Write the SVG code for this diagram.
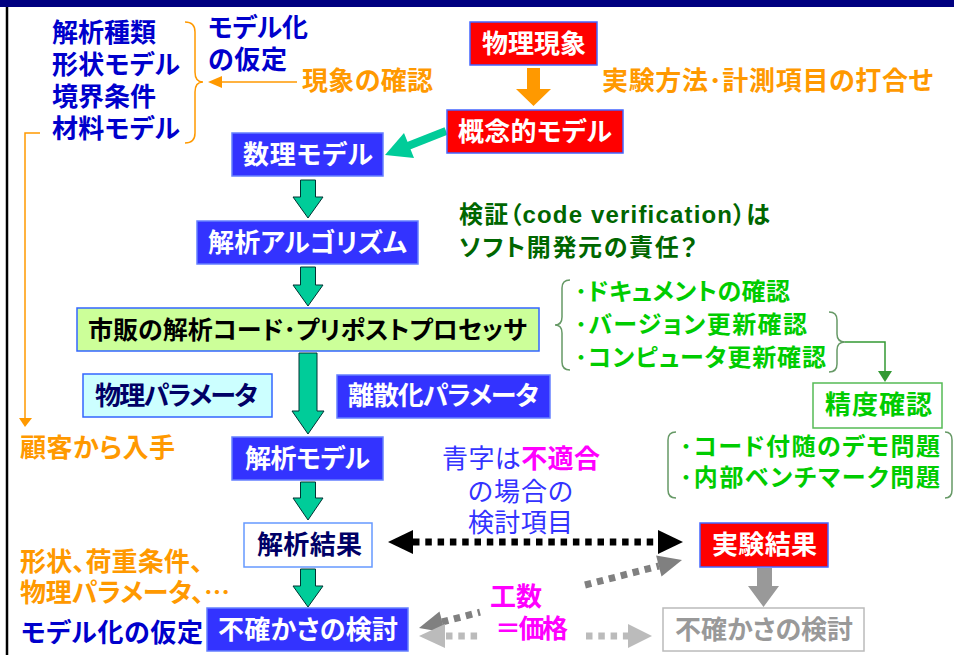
<svg xmlns="http://www.w3.org/2000/svg" width="954" height="655" viewBox="0 0 954 655">
<style>
text{font-family:"Noto Sans CJK JP","Noto Sans CJK SC",sans-serif;font-weight:bold;font-feature-settings:"palt";}
.f26{font-size:26px}
.f25{font-size:25px}
.f24{font-size:24px}
.wt{fill:#FFFFFF}
.nv{fill:#000066}
.db{fill:#0000CC}
.or{fill:#FF9900}
.gr{fill:#00CC00}
.dg{fill:#006600}
.mg{fill:#FF00FF}
.bl{fill:#3333FF;font-weight:normal}
.gy{fill:#999999}
.bbox{fill:#3333FF;stroke:#6680FF;stroke-width:1.5}
.rbox{fill:#FF0000;stroke:#4466FF;stroke-width:1.5}
.blk{fill:#00CC99;stroke:#003333;stroke-width:1}
</style>
<rect x="0" y="0" width="954" height="7" fill="#000080"/>
<line x1="7" y1="7" x2="7" y2="655" stroke="#000000" stroke-width="2.5"/>

<g id="connectors">
  <!-- orange brace and arrow -->
  <path d="M185,22 Q195,22 195,32 L195,72 Q195,82 203,82 Q195,82 195,92 L195,133 Q195,143 185,143" fill="none" stroke="#FF9900" stroke-width="1.5"/>
  <line x1="297" y1="82" x2="220" y2="82" stroke="#FF9900" stroke-width="1.5"/>
  <polygon points="208,82 222,76 222,88" fill="#FF9900"/>
  <polyline points="40,133 25,133 25,418" fill="none" stroke="#FF9900" stroke-width="1.5"/>
  <polygon points="19,418 32,418 25,427" fill="#FF9900"/>
  <!-- orange block arrow -->
  <polygon points="527,68 540,68 540,89 551,89 533.5,106 516,89 527,89" fill="#FF9900"/>
  <!-- teal arrow -->
  <line x1="446" y1="131" x2="408" y2="146" stroke="#00CC99" stroke-width="8"/>
  <polygon points="385,155 404,133 414,158" fill="#00CC99"/>
  <!-- block arrows -->
  <polygon class="blk" points="300.5,180 315.5,180 315.5,197 323,197 308,218 293,197 300.5,197"/>
  <polygon class="blk" points="300.5,267 315.5,267 315.5,285 323,285 308,306 293,285 300.5,285"/>
  <polygon class="blk" points="299,353 317,353 317,411 324,411 308,434 292,411 299,411"/>
  <polygon class="blk" points="300.5,482 315.5,482 315.5,498 323,498 308,520 293,498 300.5,498"/>
  <polygon class="blk" points="300.5,569 315.5,569 315.5,586 323,586 308,607 293,586 300.5,586"/>
  <!-- black dotted double arrow -->
  <line x1="413" y1="542" x2="659" y2="542" stroke="#000000" stroke-width="7" stroke-dasharray="6.5 5.8"/>
  <polygon points="388,542 413,530 413,554" fill="#000000"/>
  <polygon points="683,542 658,530 658,554" fill="#000000"/>
  <!-- dark gray dotted double arrow -->
  <line x1="442" y1="622" x2="480" y2="612.2" stroke="#808080" stroke-width="7" stroke-dasharray="6.5 5.8"/>
  <line x1="585" y1="585" x2="659" y2="566" stroke="#808080" stroke-width="7" stroke-dasharray="6.5 5.8"/>
  <polygon points="682,560 661.5,576.6 656.1,555.4" fill="#808080"/>
  <polygon points="419,628 445,632.6 439.5,611.4" fill="#808080"/>
  <!-- light gray dotted double arrow -->
  <line x1="446" y1="636" x2="480" y2="636" stroke="#BBBBBB" stroke-width="7" stroke-dasharray="6.5 5.8"/>
  <line x1="586" y1="636" x2="628" y2="636" stroke="#BBBBBB" stroke-width="7" stroke-dasharray="6.5 5.8"/>
  <polygon points="419,636 445,624 445,648" fill="#BBBBBB"/>
  <polygon points="652,636 628,624 628,648" fill="#BBBBBB"/>
  <!-- gray block arrow -->
  <polygon points="757,568 772,568 772,586 779,586 763.5,607 748,586 757,586" fill="#999999"/>
  <!-- green braces and connector -->
  <path d="M570,280 Q562,280 562,288 L562,317 Q562,325 555,325 Q562,325 562,333 L562,362 Q562,370 570,370" fill="none" stroke="#669966" stroke-width="1.5"/>
  <path d="M829,312 Q837,312 837,320 L837,334 Q837,342 845,342 Q837,342 837,350 L837,364 Q837,372 829,372" fill="none" stroke="#669966" stroke-width="1.5"/>
  <polyline points="845,342 885,342 885,372" fill="none" stroke="#339933" stroke-width="1.5"/>
  <polygon points="878,371 892,371 885,382" fill="#339933"/>
  <path d="M676,432 Q668,432 668,440 L668,490 Q668,498 676,498" fill="none" stroke="#669966" stroke-width="1.5"/>
  <path d="M945,432 Q952,432 952,440 L952,490 Q952,498 945,498" fill="none" stroke="#669966" stroke-width="1.5"/>
</g>

<g id="labels">
  <text class="f26 db" x="52" y="42" textLength="104">解析種類</text>
  <text class="f26 db" x="52" y="74" textLength="128">形状モデル</text>
  <text class="f26 db" x="52" y="106" textLength="104">境界条件</text>
  <text class="f26 db" x="52" y="138" textLength="128">材料モデル</text>
  <text class="f26 db" x="208" y="37" textLength="100">モデル化</text>
  <text class="f26 db" x="208" y="69" textLength="79">の仮定</text>
  <text class="f26 or" x="302" y="90" textLength="131">現象の確認</text>
  <text class="f26 or" x="602" y="90" textLength="331">実験方法･計測項目の打合せ</text>
  <text class="f24 dg" x="459" y="223" textLength="311">検証（<tspan font-family="Liberation Sans">code verification</tspan>）は</text>
  <text class="f24 dg" x="459" y="256" textLength="238">ソフト開発元の責任？</text>
  <text class="f24 gr" x="575" y="300" textLength="215">･ドキュメントの確認</text>
  <text class="f24 gr" x="575" y="333" textLength="232">･バージョン更新確認</text>
  <text class="f24 gr" x="575" y="366" textLength="251">･コンピュータ更新確認</text>
  <text class="f24 gr" x="680" y="455" textLength="260">･コード付随のデモ問題</text>
  <text class="f24 gr" x="680" y="486" textLength="260">･内部ベンチマーク問題</text>
  <text class="f26 or" x="20" y="457" textLength="155">顧客から入手</text>
  <text class="f26 or" x="20" y="571" textLength="183">形状、荷重条件、</text>
  <text class="f26 or" x="20" y="602" textLength="210">物理パラメータ、…</text>
  <text class="f26 db" x="21" y="642" textLength="182">モデル化の仮定</text>
  <text class="f26" x="442" y="468" textLength="158"><tspan class="bl">青字は</tspan><tspan class="mg">不適合</tspan></text>
  <text class="f26 bl" x="468" y="501" textLength="105">の場合の</text>
  <text class="f26 bl" x="468" y="532" textLength="105">検討項目</text>
  <text class="f26 mg" x="490" y="606" textLength="52">工数</text>
  <text class="f26 mg" x="495" y="638" textLength="73">＝価格</text>
</g>

<g id="n-butsuri-gensho"><rect class="rbox" x="470" y="22" width="127" height="43"/><text class="f26 wt" x="482" y="53" textLength="104">物理現象</text></g>
<g id="n-gainen"><rect class="rbox" x="447" y="110" width="176" height="43"/><text class="f26 wt" x="458" y="141" textLength="154">概念的モデル</text></g>
<g id="n-suri"><rect class="bbox" x="232" y="133" width="151" height="43"/><text class="f26 wt" x="243" y="164" textLength="130">数理モデル</text></g>
<g id="n-algo"><rect class="bbox" x="197" y="221" width="221" height="43"/><text class="f26 wt" x="208" y="252" textLength="199">解析アルゴリズム</text></g>
<g id="n-code"><rect x="77" y="308" width="462" height="43" fill="#CCFF99" stroke="#3366FF" stroke-width="1.5"/><text class="f25" x="88" y="339" textLength="439" fill="#000000">市販の解析コード･プリポストプロセッサ</text></g>
<g id="n-phys-param"><rect x="83" y="374" width="189" height="43" fill="#CCFFFF" stroke="#3366FF" stroke-width="1.5"/><text class="f26 nv" x="95" y="405" textLength="163">物理パラメータ</text></g>
<g id="n-disc-param"><rect class="bbox" x="337" y="375" width="213" height="43"/><text class="f26 wt" x="348" y="405" textLength="191">離散化パラメータ</text></g>
<g id="n-model"><rect class="bbox" x="232" y="437" width="151" height="43"/><text class="f26 wt" x="245" y="468" textLength="125">解析モデル</text></g>
<g id="n-result"><rect x="244" y="523" width="128" height="44" fill="#FFFFFF" stroke="#6699FF" stroke-width="1.5"/><text class="f26 nv" x="257" y="554" textLength="105">解析結果</text></g>
<g id="n-uncert"><rect class="bbox" x="207" y="608" width="201" height="43"/><text class="f26 wt" x="218" y="639" textLength="180">不確かさの検討</text></g>
<g id="n-exp"><rect class="rbox" x="700" y="523" width="128" height="44"/><text class="f26 wt" x="712" y="554" textLength="105">実験結果</text></g>
<g id="n-uncert-gray"><rect x="663" y="608" width="201" height="43" fill="#FFFFFF" stroke="#BBBBBB" stroke-width="1.5"/><text class="f26 gy" x="675" y="639" textLength="178">不確かさの検討</text></g>
<g id="n-seido"><rect x="813" y="383" width="129" height="45" fill="#FFFFFF" stroke="#55BB55" stroke-width="1.5"/><text class="f26 gr" x="825" y="414" textLength="107">精度確認</text></g>
</svg>
